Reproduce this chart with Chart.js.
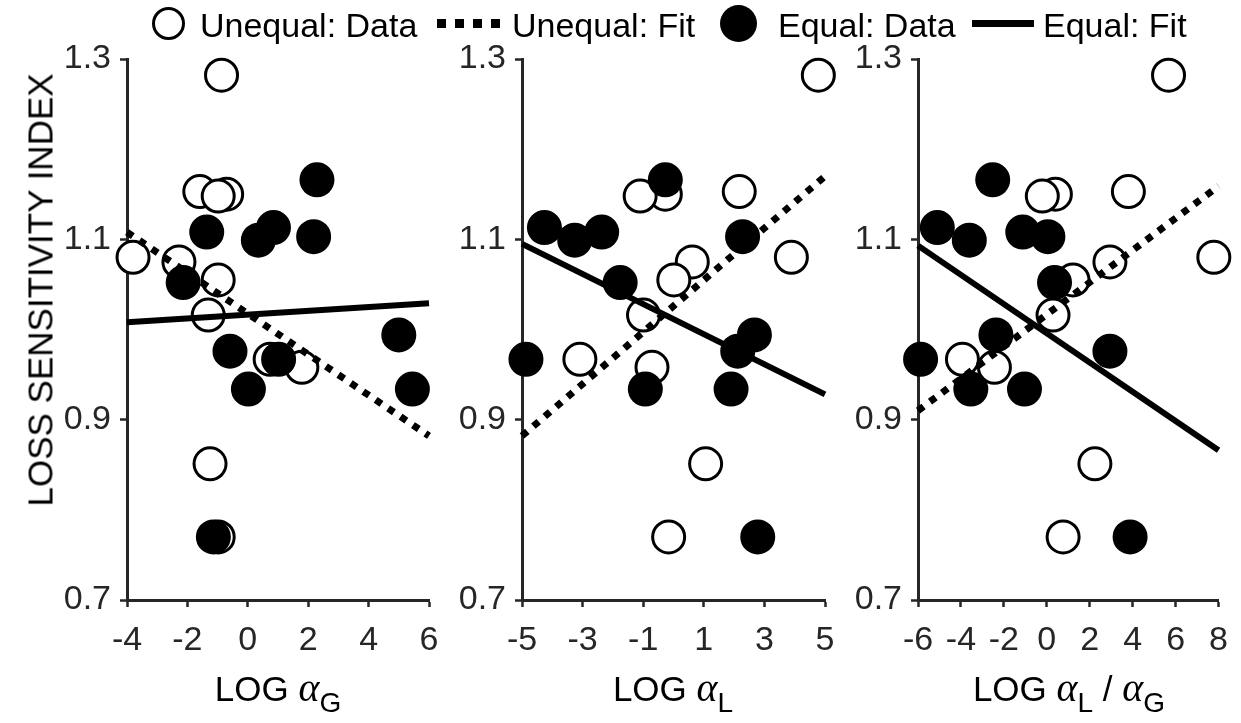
<!DOCTYPE html>
<html>
<head>
<meta charset="utf-8">
<script src="https://cdn.jsdelivr.net/npm/chart.js@4.4.0/dist/chart.umd.min.js"></script>
<style>
  body { margin: 0; background: #fff; width: 1241px; height: 723px; overflow: hidden; position: relative;
         font-family: "Liberation Sans", Arial, sans-serif; }
  canvas { position: absolute; left: 0; top: 0; }
  .txt { position: absolute; white-space: nowrap; color: #000; }
  .leg { font-size: 34px; line-height: 34px; top: 8px; }
  .xtitle { font-size: 35px; line-height: 35px; top: 670px; width: 400px; text-align: center; }
  .xtitle i { font-family: "Liberation Serif", "DejaVu Serif", serif; font-size: 40px; }
  .xtitle sub { font-size: 28px; position: relative; top: 11px; vertical-align: baseline; line-height: 0; }
  .ytitle { font-size: 35px; line-height: 35px; left: 40px; top: 290px; transform: translate(-50%, -50%) rotate(-90deg); }
</style>
</head>
<body>
<canvas id="cG" width="1241" height="723"></canvas>
<canvas id="cL" width="1241" height="723"></canvas>
<canvas id="cR" width="1241" height="723"></canvas>

<!-- legend -->
<div style="position:absolute;left:152px;top:7px;width:33px;height:33px;box-sizing:border-box;border:3px solid #000;border-radius:50%;"></div>
<div class="txt leg" style="left:200px;">Unequal: Data</div>
<div style="position:absolute;left:437px;top:19px;width:63px;height:9px;background:repeating-linear-gradient(90deg,#000 0 9px,transparent 9px 18px);"></div>
<div class="txt leg" style="left:512px;">Unequal: Fit</div>
<div style="position:absolute;left:720px;top:5px;width:37px;height:37px;border-radius:50%;background:#000;"></div>
<div class="txt leg" style="left:778px;">Equal: Data</div>
<div style="position:absolute;left:972px;top:20px;width:62px;height:7px;background:#000;"></div>
<div class="txt leg" style="left:1043px;">Equal: Fit</div>

<!-- axis titles -->
<div class="txt ytitle">LOSS SENSITIVITY INDEX</div>
<div class="txt xtitle" style="left:78px;">LOG <i>α</i><sub>G</sub></div>
<div class="txt xtitle" style="left:473px;">LOG <i>α</i><sub>L</sub></div>
<div class="txt xtitle" style="left:869px;">LOG <i>α</i><sub>L</sub> / <i>α</i><sub>G</sub></div>

<script>
// loss sensitivity index per participant
const unequalY = [1.282, 1.153, 1.150, 1.148, 1.080, 1.075, 1.055, 1.016, 0.967, 0.958, 0.851, 0.770];
const equalY   = [1.166, 1.113, 1.108, 1.103, 1.099, 1.052, 0.994, 0.976, 0.967, 0.934, 0.934, 0.770];

// log alpha gain
const unequalLogAG = [-0.87, -1.59, -0.70, -0.98, -3.80, -2.28, -0.98, -1.31, 0.74, 1.79, -1.25, -0.98];
const equalLogAG   = [2.29, 0.85, -1.36, 2.18, 0.35, -2.14, 5.00, -0.59, 1.02, 0.02, 5.45, -1.14];

// log alpha loss
const unequalLogAL = [4.78, 2.17, -0.27, -1.10, 3.89, 0.62, 0.01, -0.99, -3.09, -0.71, 1.06, -0.16];
const equalLogAL   = [-0.27, -4.26, -2.37, 2.28, -3.26, -1.76, 2.67, 2.12, -4.87, -0.93, 1.90, 2.78];

// log alpha loss / alpha gain
const unequalLogRatio = [5.67, 3.80, 0.40, -0.21, 7.78, 2.94, 1.22, 0.29, -3.93, -2.44, 2.24, 0.76];
const equalLogRatio   = [-2.52, -5.10, -1.12, 0.05, -3.61, 0.36, -2.37, 2.94, -5.88, -1.04, -3.54, 3.88];

// regression lines (end points)
const fitXAG = [-4, 6];
const unequalFitAG = [1.108, 0.882];
const equalFitAG   = [1.008, 1.029];
const fitXAL = [-5, 5];
const unequalFitAL = [0.882, 1.170];
const equalFitAL   = [1.095, 0.928];
const fitXRatio = [-6, 8];
const unequalFitRatio = [0.910, 1.159];
const equalFitRatio   = [1.093, 0.866];

// ticks
const yTicks = [0.7, 0.9, 1.1, 1.3];
const xTicksAG = [-4, -2, 0, 2, 4, 6];
const xTicksAL = [-5, -3, -1, 1, 3, 5];
const xTicksRatio = [-6, -4, -2, 0, 2, 4, 6, 8];

const AXIS = '#262626';
const Y_SCALE_W = 127;
const tickFont = { size: 34, family: 'Liberation Sans' };

function pts(xs, ys) {
  return xs.map((x, i) => ({ x: x, y: ys[i] }));
}

function panel(id, left, right, xTicks, fitX, uFit, eFit, uX, eX) {
  new Chart(document.getElementById(id), {
    type: 'scatter',
    data: {
      datasets: [
        { data: pts(fitX, eFit), showLine: true, borderColor: '#000', borderWidth: 6,
          borderCapStyle: 'butt', pointRadius: 0, order: 0, clip: false },
        { data: pts(eX, equalY), pointRadius: 16, pointBackgroundColor: '#000',
          pointBorderColor: '#000', pointBorderWidth: 3, order: 1, clip: false },
        { data: pts(fitX, uFit), showLine: true, borderColor: '#000', borderWidth: 7,
          borderDash: [7, 8], borderCapStyle: 'butt', pointRadius: 0, order: 2, clip: false },
        { data: pts(uX, unequalY), pointRadius: 16, pointBackgroundColor: '#fff',
          pointBorderColor: '#000', pointBorderWidth: 3, order: 3, clip: false }
      ]
    },
    options: {
      responsive: false,
      animation: false,
      events: [],
      layout: { padding: { left: left - Y_SCALE_W, right: 1241 - right, top: 59, bottom: 0 } },
      plugins: { legend: { display: false }, tooltip: { enabled: false } },
      scales: {
        x: {
          type: 'linear',
          min: xTicks[0],
          max: xTicks[xTicks.length - 1],
          afterBuildTicks: s => { s.ticks = xTicks.map(v => ({ value: v })); },
          afterFit: s => { s.height = 123; },
          ticks: { font: tickFont, color: AXIS, padding: 13, maxRotation: 0, autoSkip: false },
          grid: { drawOnChartArea: false, tickLength: 7, tickWidth: 2.5, tickColor: AXIS },
          border: { color: AXIS, width: 3 }
        },
        y: {
          min: 0.7,
          max: 1.3,
          afterBuildTicks: s => { s.ticks = yTicks.map(v => ({ value: v })); },
          afterFit: s => { s.width = Y_SCALE_W; },
          ticks: { font: tickFont, color: AXIS, padding: 9, callback: v => v.toFixed(1) },
          grid: { drawOnChartArea: false, tickLength: 7, tickWidth: 2.5, tickColor: AXIS },
          border: { color: AXIS, width: 3 }
        }
      }
    }
  });
}

panel('cG', 127, 429, xTicksAG, fitXAG, unequalFitAG, equalFitAG, unequalLogAG, equalLogAG);
panel('cL', 522, 825, xTicksAL, fitXAL, unequalFitAL, equalFitAL, unequalLogAL, equalLogAL);
panel('cR', 918, 1220, xTicksRatio, fitXRatio, unequalFitRatio, equalFitRatio, unequalLogRatio, equalLogRatio);
</script>
</body>
</html>
